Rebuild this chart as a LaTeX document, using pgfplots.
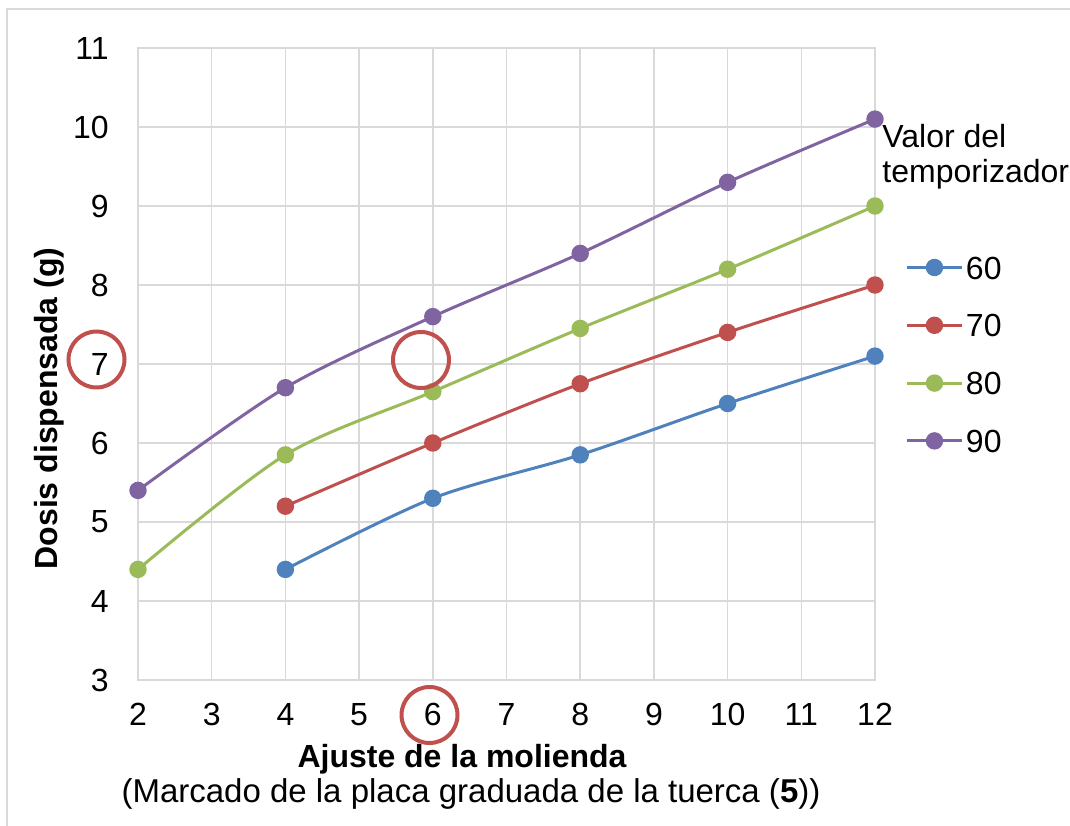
\documentclass[border=0pt]{standalone}
\usepackage{pgfplots}
\pgfplotsset{compat=1.18}
\usepackage{fontspec}
\setmainfont{Liberation Sans}
\definecolor{cA}{HTML}{4F81BD}
\definecolor{cB}{HTML}{C0504D}
\definecolor{cC}{HTML}{9BBB59}
\definecolor{cD}{HTML}{8064A2}
\definecolor{gridc}{HTML}{D9D9D9}
\definecolor{ring}{HTML}{C0504D}
\begin{document}
\fontsize{16}{19.2}\selectfont
\begin{tikzpicture}
\path[use as bounding box] (0,0) rectangle (535pt,412.5pt);
\draw[color=gridc, line width=1pt] (3.5pt,-5pt) -- (3.5pt,408pt) -- (540pt,408pt);
\begin{axis}[
  at={(69pt,72.5pt)}, anchor=south west,
  scale only axis, width=368.5pt, height=316pt,
  xmin=2, xmax=12, ymin=3, ymax=11,
  xtick={2,3,...,12}, ytick={3,4,...,11},
  grid=major, grid style={color=gridc, line width=0.75pt},
  axis line style={draw=gridc, line width=0.75pt},
  major tick length=0pt,
  /pgf/number format/assume math mode=true,
  tick label style={font=\fontsize{16}{19.2}\selectfont},
  xticklabel style={inner sep=0pt, anchor=north, yshift=-11.5pt},
  yticklabel style={inner sep=0pt, anchor=east, xshift=-14.5pt},
  clip=false,
  every axis plot/.append style={smooth, line width=1.5pt, mark=*, mark size=3.6pt, mark options={solid}},
  legend image code/.code={\draw[mark repeat=2,mark phase=2] plot coordinates {(0pt,0pt)(13.5pt,0pt)(27pt,0pt)};},
  legend style={draw=none, fill=none, inner sep=0pt, outer sep=0pt,
    at={(1.0420,0.6709)}, anchor=north west,
    font=\fontsize{16}{19.2}\selectfont,
    nodes={inner sep=0pt, text height=11.5pt, text depth=0pt},
    row sep=17.4pt,
    /tikz/every odd column/.append style={column sep=1.5pt}},
  legend cell align=left,
]
\addplot[color=cA] coordinates {(4,4.4) (6,5.3) (8,5.85) (10,6.5) (12,7.1)};
\addplot[color=cB] coordinates {(4,5.2) (6,6.0) (8,6.75) (10,7.4) (12,8.0)};
\addplot[color=cC] coordinates {(2,4.4) (4,5.85) (6,6.65) (8,7.45) (10,8.2) (12,9.0)};
\addplot[color=cD] coordinates {(2,5.4) (4,6.7) (6,7.6) (8,8.4) (10,9.3) (12,10.1)};
\legend{60,70,80,90}
\end{axis}
\node[anchor=base west, inner sep=0pt] at (441pt,338.5pt) {Valor del};
\node[anchor=base west, inner sep=0pt] at (441pt,321pt) {temporizador};
\node[rotate=90, inner sep=0pt, font=\bfseries\fontsize{16}{19.2}\selectfont] at (24.5pt,208.25pt) {Dosis dispensada (g)};
\node[anchor=base, inner sep=0pt, font=\bfseries\fontsize{16}{19.2}\selectfont] at (231pt,29pt) {Ajuste de la molienda};
\node[anchor=base, inner sep=0pt, font=\fontsize{16.5}{19.8}\selectfont] at (235.5pt,11.5pt) {(Marcado de la placa graduada de la tuerca (\textbf{5}))};
\draw[color=ring, line width=2pt] (48.25pt,232.75pt) circle[radius=14pt];
\draw[color=ring, line width=2pt] (210.5pt,232.5pt) circle[radius=14pt];
\draw[color=ring, line width=2pt] (214.75pt,55pt) circle[radius=14pt];
\end{tikzpicture}
\end{document}
